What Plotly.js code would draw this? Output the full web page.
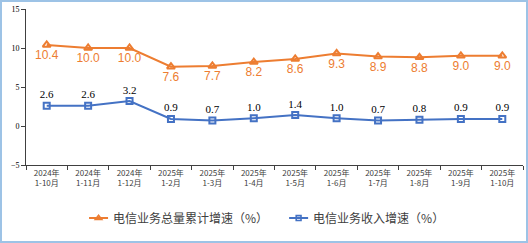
<!DOCTYPE html>
<html><head><meta charset="utf-8">
<script src="https://cdn.plot.ly/plotly-3.0.1.min.js"></script>
<style>body{margin:0;padding:0;background:#fff}#wrap{position:relative;width:528px;height:243px}#chart{width:528px;height:243px}#border{position:absolute;left:0;top:0;width:528px;height:243px;box-sizing:border-box;border:2px solid #9DC3E6;pointer-events:none}</style>
</head><body><div id="wrap"><div id="chart"></div><div id="border"></div></div>
<script>
const categories = ["2024年<br>1-10月","2024年<br>1-11月","2024年<br>1-12月","2025年<br>1-2月","2025年<br>1-3月","2025年<br>1-4月","2025年<br>1-5月","2025年<br>1-6月","2025年<br>1-7月","2025年<br>1-8月","2025年<br>1-9月","2025年<br>1-10月"];
const totalGrowth = [10.4,10.0,10.0,7.6,7.7,8.2,8.6,9.3,8.9,8.8,9.0,9.0];
const revenueGrowth = [2.6,2.6,3.2,0.9,0.7,1.0,1.4,1.0,0.7,0.8,0.9,0.9];
const seriesNames = ["电信业务总量累计增速（%）","电信业务收入增速（%）"];
const yTicks = [-5,0,5,10,15];

const traces = [
 {x: categories, y: totalGrowth, name: seriesNames[0], type:'scatter', mode:'lines+markers+text',
  text: totalGrowth.map(v=>v.toFixed(1)), textposition:'bottom center',
  textfont:{family:'Liberation Sans, Arial', size:12, color:'#ED7D31'},
  line:{color:'#ED7D31', width:2}, marker:{symbol:'triangle-up-open', size:7, color:'#ED7D31', line:{width:2}}},
 {x: categories, y: revenueGrowth, name: seriesNames[1], type:'scatter', mode:'lines+markers+text',
  text: revenueGrowth.map(v=>v.toFixed(1)), textposition:'top center',
  textfont:{family:'Liberation Serif, Times New Roman', size:11, color:'#000'},
  line:{color:'#4472C4', width:2}, marker:{symbol:'square-open', size:6, color:'#4472C4', line:{width:2}}}
];
const layout = {
 width:528, height:243, margin:{l:26, r:5, t:9, b:78},
 paper_bgcolor:'#fff', plot_bgcolor:'#fff', showlegend:true,
 xaxis:{type:'category', showgrid:false, zeroline:false, showline:true, linecolor:'#404040', linewidth:1,
   ticks:'outside', ticklen:4, tickcolor:'#404040', tickson:'boundaries',
   tickfont:{family:'Noto Sans CJK SC', size:8, color:'#404040'}, range:[-0.5,11.5]},
 yaxis:{range:[-5,15], tickvals:yTicks, showgrid:false, zeroline:false, showline:true, linecolor:'#404040', linewidth:1,
   ticks:'outside', ticklen:4, tickcolor:'#404040',
   tickfont:{family:'Liberation Serif', size:8, color:'#000'}},
 legend:{orientation:'h', x:0.484, xanchor:'center', y:-0.34, yanchor:'middle',
   font:{family:'Noto Sans CJK SC', size:12, color:'#404040'}, itemwidth:30}
};
Plotly.newPlot('chart', traces, layout, {displayModeBar:false, staticPlot:true}).then(function(gd){
  gd.querySelectorAll('.legend .traces').forEach(function(item){
    item.querySelectorAll('.legendlines path').forEach(function(p){ p.setAttribute('d','M11,0h19'); });
    item.querySelectorAll('.legendpoints path.scatterpts').forEach(function(p){ p.setAttribute('transform','translate(20.5,0) scale(0.8)'); });
    item.querySelectorAll('text.legendtext').forEach(function(t){ t.setAttribute('x','35'); });
  });
});
</script></body></html>
